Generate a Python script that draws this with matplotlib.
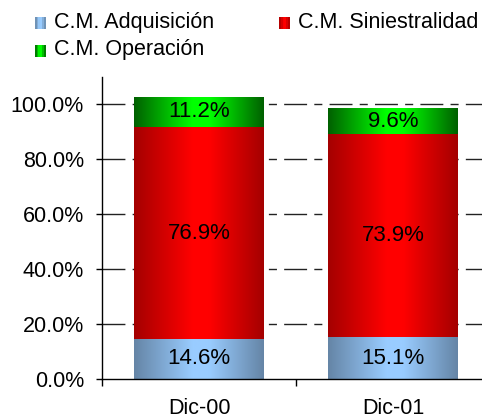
import numpy as np
import matplotlib.pyplot as plt
from matplotlib.colors import LinearSegmentedColormap
from matplotlib.legend_handler import HandlerBase
from matplotlib.patches import Rectangle

plt.rcParams['font.family'] = ['Liberation Sans', 'DejaVu Sans']

#-----------data-----------------------
categories = ['Dic-00', 'Dic-01']
series_names = ['C.M. Adquisición', 'C.M. Siniestralidad', 'C.M. Operación']
adquisicion = [14.6, 15.1]
siniestralidad = [76.9, 73.9]
operacion = [11.2, 9.6]
y_ticks = [0, 20, 40, 60, 80, 100]

# gradient (edge, bright, edge) for each series
grad_colors = [
    ['#6585a6', '#99ccff', '#99ccff', '#6585a6'],
    ['#a40000', '#ff0000', '#ff0000', '#a40000'],
    ['#006000', '#00ff00', '#00ff00', '#006000'],
]
grad_stops = [0.0, 0.45, 0.58, 1.0]

cmaps = [LinearSegmentedColormap.from_list('g%d' % i, list(zip(grad_stops, c)))
         for i, c in enumerate(grad_colors)]
gradient = np.linspace(0, 1, 256).reshape(1, -1)

fig = plt.figure(figsize=(4.82, 4.18), dpi=100)
ax = fig.add_axes([102 / 482, 39 / 418, 388 / 482, 302.5 / 418])

x = np.arange(len(categories)) + 0.5
bottom = np.zeros(len(categories))
for vals, cmap in zip([adquisicion, siniestralidad, operacion], cmaps):
    bars = ax.bar(x, vals, 0.67, bottom=bottom, color='none', edgecolor='none', zorder=2)
    for bar, v in zip(bars, vals):
        x0, y0 = bar.get_x(), bar.get_y()
        im = ax.imshow(gradient, cmap=cmap, aspect='auto', zorder=2,
                       extent=[x0, x0 + bar.get_width(), y0, y0 + bar.get_height()])
        im.set_clip_path(bar)
        ax.text(x0 + bar.get_width() / 2, y0 + v / 2, '%.1f%%' % v,
                ha='center', va='center', fontsize=16, color='black', zorder=3)
    bottom += np.array(vals)

ax.set_xlim(0, 2)
ax.set_ylim(0, 110)

# dashed gridlines: long - short pattern
for yt in y_ticks[1:]:
    ln, = ax.plot([0, 2], [yt, yt], color='#222222', lw=1.0, zorder=1)
    ln.set_dashes([16.5, 5.2, 5.8, 5.2])

ax.set_yticks(y_ticks)
ax.set_yticklabels(['%.1f%%' % t for t in y_ticks], fontsize=15.5)
ax.set_xticks([0, 1, 2])
ax.set_xticklabels([])
ax.set_xticks(x, minor=True)
ax.set_xticklabels(categories, minor=True, fontsize=15.5)
ax.tick_params(axis='y', length=4, width=1, pad=9)
ax.tick_params(axis='x', which='major', length=5, width=1)
ax.tick_params(axis='x', which='minor', length=0, pad=14)
ax.spines['top'].set_visible(False)
ax.spines['right'].set_visible(False)
for s in ['left', 'bottom']:
    ax.spines[s].set_linewidth(1.0)


class GradHandler(HandlerBase):
    def __init__(self, cmap):
        super().__init__()
        self.cmap = cmap

    def create_artists(self, legend, orig, xd, yd, w, h, fs, trans):
        arts = []
        n = 6
        for i in range(n):
            r = Rectangle((xd + w * i / n, yd), w / n, h,
                          facecolor=self.cmap((i + 0.5) / n), edgecolor='none',
                          transform=trans)
            arts.append(r)
        return arts


# column-major fill: put Operación second so it lands under Adquisición
order = [0, 2, 1]
handles = [Rectangle((0, 0), 1, 1) for _ in series_names]
fig.legend([handles[i] for i in order], [series_names[i] for i in order],
           ncol=2, loc='upper left',
           bbox_to_anchor=(23 / 482, 1 - 0 / 418), frameon=False,
           fontsize=15.5, handlelength=0.5, handleheight=0.5,
           handletextpad=0.4, columnspacing=3.0, labelspacing=0.3,
           borderpad=0.05,
           handler_map={h: GradHandler(c) for h, c in zip(handles, cmaps)})

fig.savefig('out.png', dpi=100)
